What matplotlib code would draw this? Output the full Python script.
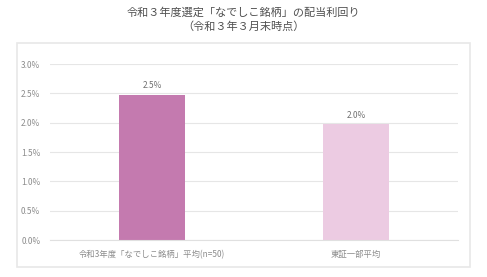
import matplotlib.pyplot as plt
from matplotlib.patches import Rectangle
from matplotlib.ticker import PercentFormatter

plt.rcParams['font.family'] = ['Noto Sans CJK JP', 'DejaVu Sans']

# データ
categories = ['令和3年度「なでしこ銘柄」平均(n=50)', '東証一部平均']
values = [2.47, 1.97]
value_labels = ['2.5%', '2.0%']
colors = ['#C47AAF', '#ECCBE2']

fig = plt.figure(figsize=(4.87, 2.77), dpi=100)
W, H = 487, 277

# 外枠
fig.patches.append(Rectangle((17 / W, 1 - 267 / H), (470 - 17) / W, (267 - 43) / H,
                             transform=fig.transFigure, fill=False,
                             edgecolor='#e8e8e8', linewidth=1.2))

fig.text(243 / W, 1 - 13 / H, '令和３年度選定「なでしこ銘柄」の配当利回り',
         ha='center', va='center', fontsize=8, color='#505050')
fig.text(243 / W, 1 - 27 / H, '（令和３年３月末時点）',
         ha='center', va='center', fontsize=8, color='#505050')

ax = fig.add_axes([50 / W, 1 - 240 / H, (458 - 50) / W, (240 - 64) / H])
x = range(len(categories))
ax.bar(x, values, width=0.32, color=colors, zorder=2)
for xi, v, lab in zip(x, values, value_labels):
    ax.text(xi, v + 0.08, lab, ha='center', va='bottom', fontsize=6, color='#707070')

ax.set_xlim(-0.5, 1.5)
ax.set_ylim(0, 3.0)
ax.set_yticks([0, 0.5, 1.0, 1.5, 2.0, 2.5, 3.0])
ax.yaxis.set_major_formatter(PercentFormatter(decimals=1))
ax.set_xticks(list(x))
ax.set_xticklabels(categories)
ax.tick_params(axis='both', length=0, labelsize=6, colors='#8c8c8c')
ax.tick_params(axis='y', pad=7)
ax.tick_params(axis='x', pad=7)
ax.grid(axis='y', color='#e6e6e6', linewidth=0.8, zorder=0)
for s in ['top', 'right', 'left']:
    ax.spines[s].set_visible(False)
ax.spines['bottom'].set_color('#e0e0e0')
ax.spines['bottom'].set_linewidth(0.8)

fig.savefig('out.png', dpi=100)
